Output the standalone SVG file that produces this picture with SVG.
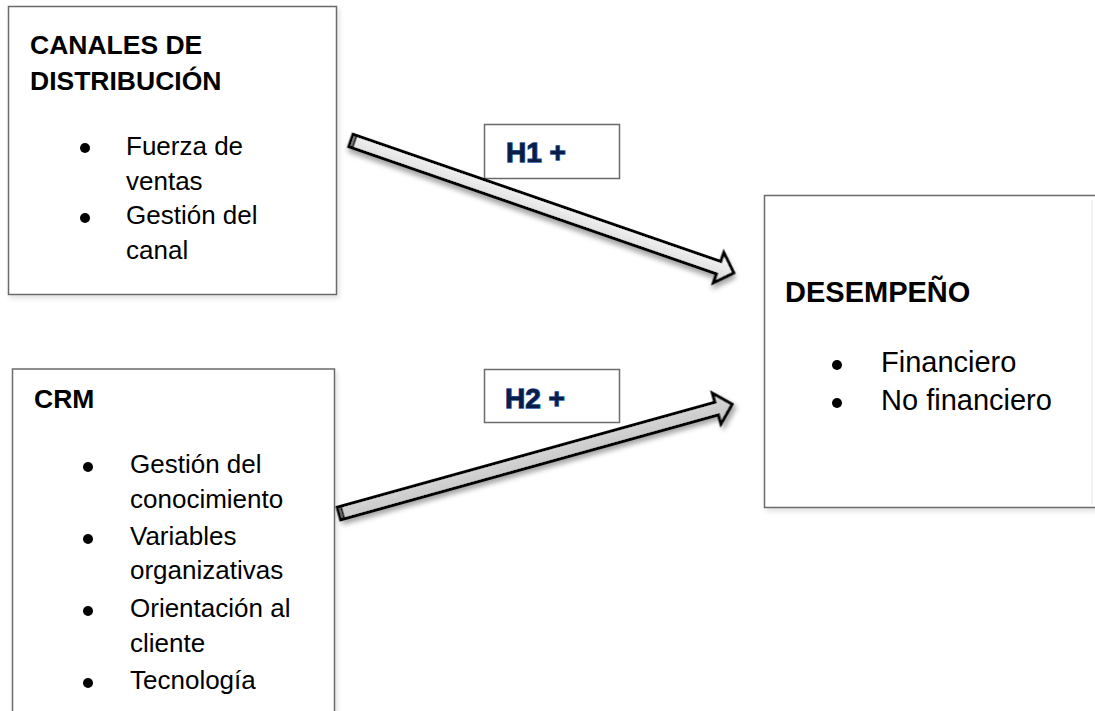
<svg xmlns="http://www.w3.org/2000/svg" width="1095" height="711" viewBox="0 0 1095 711">
  <defs>
    <filter id="boxShadow" x="-5%" y="-5%" width="112%" height="112%">
      <feDropShadow dx="2" dy="3" stdDeviation="2.5" flood-color="#000" flood-opacity="0.12"/>
    </filter>
    <filter id="arrowShadow" x="-10%" y="-50%" width="120%" height="200%">
      <feDropShadow dx="2" dy="4" stdDeviation="2.5" flood-color="#000" flood-opacity="0.35"/>
    </filter>
    <linearGradient id="g1" x1="0" y1="0" x2="0" y2="1">
      <stop offset="0" stop-color="#fbfbfb"/>
      <stop offset="1" stop-color="#d6d6d6"/>
    </linearGradient>
    <linearGradient id="g2" x1="0" y1="0" x2="0" y2="1">
      <stop offset="0" stop-color="#dadada"/>
      <stop offset="1" stop-color="#c4c4c4"/>
    </linearGradient>
    <style>
      .box { fill: #ffffff; stroke: #6b6b6b; stroke-width: 1.5; }
      .hbox { fill: #ffffff; stroke: #6b6b6b; stroke-width: 1.5; }
      .head { font-family: "Liberation Sans", Arial, sans-serif; font-weight: bold; fill: #000; }
      .body { font-family: "Liberation Sans", Arial, sans-serif; fill: #000; }
      .hlab { font-family: "Liberation Sans", Arial, sans-serif; font-weight: bold; font-size: 28px; fill: #0b1d45; stroke: #2457a8; stroke-width: 1.3; paint-order: stroke; }
      .arrow { stroke: #000; stroke-width: 3; stroke-linejoin: miter; }
      .bullet { fill: #000; }
    </style>
  </defs>

  <g id="node-canales">
    <rect class="box" x="8.5" y="6.5" width="328" height="288" filter="url(#boxShadow)"/>
    <text class="head" font-size="26.5" x="30" y="54">CANALES DE</text>
    <text class="head" font-size="26.5" x="30" y="90">DISTRIBUCIÓN</text>
    <circle class="bullet" cx="85" cy="148" r="5"/>
    <text class="body" font-size="26" x="126" y="155">Fuerza de</text>
    <text class="body" font-size="26" x="126" y="190">ventas</text>
    <circle class="bullet" cx="85" cy="218" r="5"/>
    <text class="body" font-size="26" x="126" y="224">Gestión del</text>
    <text class="body" font-size="26" x="126" y="259">canal</text>
  </g>

  <g id="node-crm">
    <rect class="box" x="12.5" y="369" width="322" height="360" filter="url(#boxShadow)"/>
    <text class="head" font-size="26.5" x="34" y="408">CRM</text>
    <circle class="bullet" cx="88" cy="467" r="5"/>
    <text class="body" font-size="26" x="130" y="473">Gestión del</text>
    <text class="body" font-size="26" x="130" y="508">conocimiento</text>
    <circle class="bullet" cx="88" cy="539" r="5"/>
    <text class="body" font-size="26" x="130" y="545">Variables</text>
    <text class="body" font-size="26" x="130" y="579">organizativas</text>
    <circle class="bullet" cx="88" cy="611" r="5"/>
    <text class="body" font-size="26" x="130" y="617">Orientación al</text>
    <text class="body" font-size="26" x="130" y="652">cliente</text>
    <circle class="bullet" cx="88" cy="683" r="5"/>
    <text class="body" font-size="26" x="130" y="689">Tecnología</text>
  </g>

  <g id="node-desempeno">
    <rect class="box" x="764.5" y="195.5" width="340" height="312" filter="url(#boxShadow)"/>
    <line x1="1092" y1="200" x2="1092" y2="505" stroke="#e6e6e6" stroke-width="1"/>
    <text class="head" font-size="29" x="785" y="302">DESEMPEÑO</text>
    <circle class="bullet" cx="837" cy="365" r="5"/>
    <text class="body" font-size="29" x="881" y="372">Financiero</text>
    <circle class="bullet" cx="837" cy="403" r="5"/>
    <text class="body" font-size="29" x="881" y="410">No financiero</text>
  </g>

  <g id="label-h1">
    <rect class="hbox" x="484.5" y="124.5" width="135" height="54"/>
    <text class="hlab" x="506" y="162">H1 +</text>
  </g>

  <g id="label-h2">
    <rect class="hbox" x="484.5" y="369.5" width="135" height="53"/>
    <text class="hlab" x="505" y="408">H2 +</text>
  </g>

  <g id="connectors">
    <g transform="translate(351,140.5) rotate(19.08)" filter="url(#arrowShadow)">
      <polygon class="arrow" fill="url(#g1)" points="0,-6.5 389,-6.5 389,-16 405,0 389,16 389,6.5 0,6.5"/>
      <line x1="3.5" y1="-6.5" x2="3.5" y2="6.5" stroke="#000" stroke-width="2"/>
    </g>
    <g transform="translate(339,513.5) rotate(-15.53)" filter="url(#arrowShadow)">
      <polygon class="arrow" fill="url(#g2)" points="0,-6.5 392,-6.5 392,-16 408,0 392,16 392,6.5 0,6.5"/>
      <line x1="3.5" y1="-6.5" x2="3.5" y2="6.5" stroke="#000" stroke-width="2"/>
    </g>
  </g>
</svg>
